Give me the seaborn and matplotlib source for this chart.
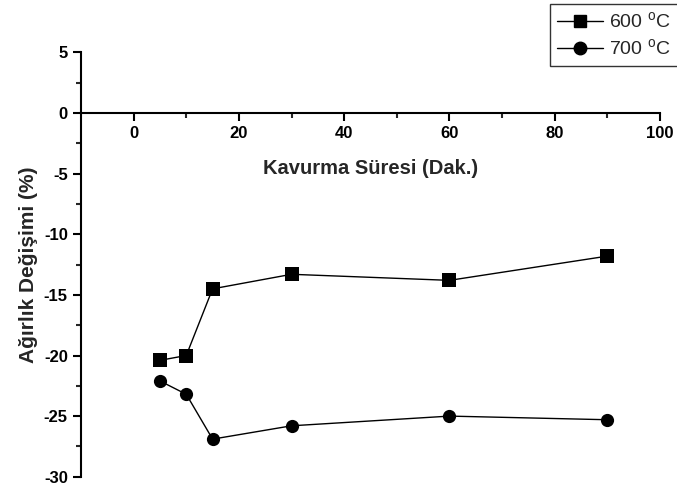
import pandas as pd
import matplotlib
matplotlib.use("Agg")
import matplotlib.pyplot as plt
import seaborn as sns

sns.set_style("white")
plt.rcParams['font.family'] = ['Liberation Sans', 'DejaVu Sans']
plt.rcParams['mathtext.fontset'] = 'custom'
plt.rcParams['mathtext.rm'] = 'Liberation Sans'
plt.rcParams['axes.unicode_minus'] = False

# roasting time (min) and weight change (%)
times = [5, 10, 15, 30, 60, 90]
change_600 = [-20.4, -20.0, -14.5, -13.3, -13.8, -11.8]
change_700 = [-22.1, -23.2, -26.9, -25.8, -25.0, -25.3]
labels = ['600 $^{\\rm o}$C', '700 $^{\\rm o}$C']

rows = []
for lab, vals in zip(labels, [change_600, change_700]):
    for t, v in zip(times, vals):
        rows.append((t, v, lab))
df = pd.DataFrame(rows, columns=['Sure', 'Degisim', 'Sicaklik'])

fig = plt.figure(figsize=(6.77, 4.86), dpi=100)
ax = fig.add_axes([81 / 677, 1 - 476.7 / 486, (660 - 81) / 677, (476.7 - 52.5) / 486])

sns.lineplot(data=df, x='Sure', y='Degisim', hue='Sicaklik', style='Sicaklik',
             markers={labels[0]: 's', labels[1]: 'o'}, dashes=False,
             palette=['black', 'black'], markersize=9.5, linewidth=1,
             markeredgewidth=0, ax=ax, legend=False)

ax.set_xlim(-10, 100)
ax.set_ylim(-30, 5)
ax.spines['top'].set_visible(False)
ax.spines['right'].set_visible(False)
ax.spines['bottom'].set_position(('data', 0))
for s in ['left', 'bottom']:
    ax.spines[s].set_linewidth(1.5)
    ax.spines[s].set_color('black')

ax.set_xticks([0, 20, 40, 60, 80, 100])
ax.set_xticks([10, 30, 50, 70, 90], minor=True)
ax.set_yticks([5, 0, -5, -10, -15, -20, -25, -30])
ax.set_yticks([2.5, -2.5, -7.5, -12.5, -17.5, -22.5, -27.5], minor=True)
ax.tick_params(axis='both', which='major', direction='out', length=6, width=1.5,
               labelsize=12, colors='black', bottom=True, left=True)
ax.tick_params(axis='both', which='minor', direction='out', length=3.5, width=1.5,
               bottom=True, left=True)
for lbl in ax.get_xticklabels() + ax.get_yticklabels():
    lbl.set_fontweight('bold')

ax.set_xlabel('Kavurma Süresi (Dak.)', fontsize=14.5, fontweight='bold', labelpad=13)
ax.set_ylabel('Ağırlık Değişimi (%)', fontsize=15, fontweight='bold', labelpad=4)

handles = [
    plt.Line2D([], [], color='black', lw=1, marker='s', markersize=8),
    plt.Line2D([], [], color='black', lw=1, marker='o', markersize=9),
]
leg = fig.legend(handles, labels, loc='upper left', bbox_to_anchor=(550 / 677, 1 - 4 / 486),
                 frameon=True, fancybox=False, edgecolor='black', fontsize=14,
                 handlelength=2.4, handletextpad=0.3, labelspacing=0.35,
                 borderpad=0.35, borderaxespad=0)
leg.get_frame().set_linewidth(1)

fig.savefig('out.png', dpi=100)
